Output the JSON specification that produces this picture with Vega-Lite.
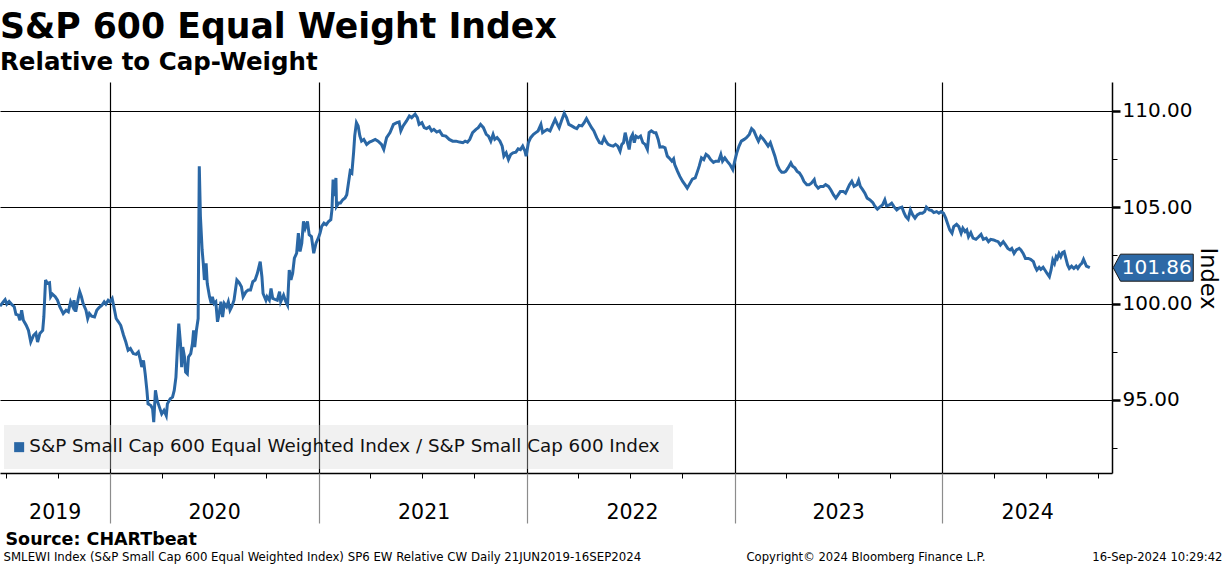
{
  "$schema": "https://vega.github.io/schema/vega-lite/v6.json",
  "width": 1112,
  "height": 391,
  "autosize": {"type": "none"},
  "padding": {"left": 0, "top": 82, "right": 112, "bottom": 93},
  "background": "white",
  "title": {
    "text": "S&P 600 Equal Weight Index",
    "subtitle": "Relative to Cap-Weight",
    "anchor": "start",
    "frame": "group",
    "font": "DejaVu Sans",
    "fontSize": 34.7,
    "fontWeight": "bold",
    "color": "#000000",
    "subtitleFont": "DejaVu Sans",
    "subtitleFontSize": 24.5,
    "subtitleFontWeight": "bold",
    "subtitleColor": "#000000",
    "subtitlePadding": 5,
    "offset": 7
  },
  "config": {
    "view": {"stroke": null},
    "font": "DejaVu Sans",
    "axis": {"labelFont": "DejaVu Sans", "titleFont": "DejaVu Sans"}
  },
  "datasets": {
    "main": [
      {"date": "2019-06-21", "value": 99.86}, {"date": "2019-06-27", "value": 100.09}, {"date": "2019-06-30", "value": 100.2},
      {"date": "2019-07-03", "value": 99.97}, {"date": "2019-07-07", "value": 100.1}, {"date": "2019-07-11", "value": 99.97},
      {"date": "2019-07-16", "value": 99.83}, {"date": "2019-07-19", "value": 99.44}, {"date": "2019-07-23", "value": 99.4},
      {"date": "2019-07-26", "value": 99.13}, {"date": "2019-07-29", "value": 99.65}, {"date": "2019-08-01", "value": 99.13},
      {"date": "2019-08-06", "value": 98.87}, {"date": "2019-08-10", "value": 98.6}, {"date": "2019-08-14", "value": 98.0},
      {"date": "2019-08-19", "value": 98.35}, {"date": "2019-08-23", "value": 98.47}, {"date": "2019-08-26", "value": 98.0},
      {"date": "2019-08-30", "value": 98.44}, {"date": "2019-09-04", "value": 98.6}, {"date": "2019-09-06", "value": 99.3},
      {"date": "2019-09-09", "value": 101.22}, {"date": "2019-09-12", "value": 101.04}, {"date": "2019-09-16", "value": 101.08},
      {"date": "2019-09-18", "value": 100.35}, {"date": "2019-09-21", "value": 100.49}, {"date": "2019-09-26", "value": 100.35},
      {"date": "2019-09-30", "value": 100.17}, {"date": "2019-10-04", "value": 99.83}, {"date": "2019-10-10", "value": 99.48},
      {"date": "2019-10-15", "value": 99.65}, {"date": "2019-10-19", "value": 99.57}, {"date": "2019-10-23", "value": 100.09},
      {"date": "2019-10-27", "value": 99.83}, {"date": "2019-10-29", "value": 100.17}, {"date": "2019-11-01", "value": 99.57},
      {"date": "2019-11-06", "value": 100.35}, {"date": "2019-11-08", "value": 100.61}, {"date": "2019-11-11", "value": 100.35},
      {"date": "2019-11-14", "value": 100.0}, {"date": "2019-11-19", "value": 99.65}, {"date": "2019-11-22", "value": 99.22},
      {"date": "2019-11-25", "value": 99.48}, {"date": "2019-11-29", "value": 99.34}, {"date": "2019-12-04", "value": 99.3},
      {"date": "2019-12-08", "value": 99.65}, {"date": "2019-12-12", "value": 99.79}, {"date": "2019-12-17", "value": 99.91},
      {"date": "2019-12-21", "value": 100.09}, {"date": "2019-12-24", "value": 99.97}, {"date": "2019-12-28", "value": 100.17},
      {"date": "2019-12-31", "value": 100.09}, {"date": "2020-01-04", "value": 100.26}, {"date": "2020-01-07", "value": 99.83},
      {"date": "2020-01-11", "value": 99.22}, {"date": "2020-01-15", "value": 99.05}, {"date": "2020-01-19", "value": 98.87},
      {"date": "2020-01-24", "value": 98.35}, {"date": "2020-01-28", "value": 98.0}, {"date": "2020-02-01", "value": 97.57},
      {"date": "2020-02-05", "value": 97.66}, {"date": "2020-02-10", "value": 97.4}, {"date": "2020-02-15", "value": 97.36},
      {"date": "2020-02-19", "value": 97.48}, {"date": "2020-02-22", "value": 97.14}, {"date": "2020-02-25", "value": 96.7},
      {"date": "2020-02-28", "value": 97.05}, {"date": "2020-03-02", "value": 96.35}, {"date": "2020-03-05", "value": 95.49},
      {"date": "2020-03-07", "value": 94.79}, {"date": "2020-03-12", "value": 94.7}, {"date": "2020-03-15", "value": 94.53},
      {"date": "2020-03-17", "value": 93.84}, {"date": "2020-03-20", "value": 95.49}, {"date": "2020-03-23", "value": 94.97},
      {"date": "2020-03-27", "value": 94.62}, {"date": "2020-03-31", "value": 94.27}, {"date": "2020-04-04", "value": 94.45},
      {"date": "2020-04-08", "value": 94.18}, {"date": "2020-04-10", "value": 94.79}, {"date": "2020-04-15", "value": 95.05},
      {"date": "2020-04-19", "value": 95.14}, {"date": "2020-04-22", "value": 95.49}, {"date": "2020-04-25", "value": 96.18},
      {"date": "2020-04-28", "value": 97.92}, {"date": "2020-04-30", "value": 98.96}, {"date": "2020-05-03", "value": 97.92},
      {"date": "2020-05-05", "value": 96.7}, {"date": "2020-05-07", "value": 97.74}, {"date": "2020-05-10", "value": 97.22},
      {"date": "2020-05-12", "value": 96.44}, {"date": "2020-05-15", "value": 96.35}, {"date": "2020-05-17", "value": 97.22},
      {"date": "2020-05-21", "value": 97.4}, {"date": "2020-05-24", "value": 97.92}, {"date": "2020-05-26", "value": 98.61},
      {"date": "2020-05-28", "value": 97.74}, {"date": "2020-05-31", "value": 98.61}, {"date": "2020-06-03", "value": 99.22},
      {"date": "2020-06-05", "value": 107.12}, {"date": "2020-06-07", "value": 104.51}, {"date": "2020-06-10", "value": 102.78},
      {"date": "2020-06-12", "value": 102.08}, {"date": "2020-06-14", "value": 101.22}, {"date": "2020-06-17", "value": 102.08},
      {"date": "2020-06-19", "value": 101.04}, {"date": "2020-06-23", "value": 100.35}, {"date": "2020-06-26", "value": 100.0},
      {"date": "2020-06-28", "value": 100.35}, {"date": "2020-07-01", "value": 100.0}, {"date": "2020-07-04", "value": 100.09},
      {"date": "2020-07-07", "value": 99.05}, {"date": "2020-07-10", "value": 99.48}, {"date": "2020-07-13", "value": 100.09},
      {"date": "2020-07-16", "value": 99.3}, {"date": "2020-07-19", "value": 100.0}, {"date": "2020-07-23", "value": 99.83},
      {"date": "2020-07-26", "value": 100.09}, {"date": "2020-07-29", "value": 99.65}, {"date": "2020-08-01", "value": 99.83},
      {"date": "2020-08-05", "value": 100.17}, {"date": "2020-08-10", "value": 101.22}, {"date": "2020-08-14", "value": 101.08},
      {"date": "2020-08-18", "value": 100.87}, {"date": "2020-08-21", "value": 100.35}, {"date": "2020-08-26", "value": 100.61},
      {"date": "2020-08-30", "value": 100.7}, {"date": "2020-09-03", "value": 100.7}, {"date": "2020-09-07", "value": 101.13},
      {"date": "2020-09-11", "value": 101.22}, {"date": "2020-09-15", "value": 101.57}, {"date": "2020-09-20", "value": 102.17},
      {"date": "2020-09-23", "value": 101.39}, {"date": "2020-09-25", "value": 100.52}, {"date": "2020-09-30", "value": 100.17},
      {"date": "2020-10-02", "value": 100.35}, {"date": "2020-10-06", "value": 100.17}, {"date": "2020-10-09", "value": 100.78},
      {"date": "2020-10-12", "value": 100.26}, {"date": "2020-10-16", "value": 100.21}, {"date": "2020-10-20", "value": 100.17},
      {"date": "2020-10-24", "value": 100.61}, {"date": "2020-10-26", "value": 100.09}, {"date": "2020-10-31", "value": 100.43},
      {"date": "2020-11-04", "value": 100.09}, {"date": "2020-11-07", "value": 99.91}, {"date": "2020-11-10", "value": 101.74},
      {"date": "2020-11-13", "value": 101.22}, {"date": "2020-11-16", "value": 101.57}, {"date": "2020-11-19", "value": 102.35},
      {"date": "2020-11-23", "value": 102.61}, {"date": "2020-11-26", "value": 103.65}, {"date": "2020-11-29", "value": 102.7},
      {"date": "2020-12-02", "value": 103.13}, {"date": "2020-12-05", "value": 104.26}, {"date": "2020-12-08", "value": 103.91},
      {"date": "2020-12-12", "value": 104.26}, {"date": "2020-12-15", "value": 103.57}, {"date": "2020-12-19", "value": 103.48},
      {"date": "2020-12-23", "value": 102.61}, {"date": "2020-12-27", "value": 103.13}, {"date": "2020-12-31", "value": 103.39},
      {"date": "2021-01-03", "value": 103.65}, {"date": "2021-01-06", "value": 104.0}, {"date": "2021-01-10", "value": 104.17},
      {"date": "2021-01-14", "value": 104.09}, {"date": "2021-01-18", "value": 104.26}, {"date": "2021-01-22", "value": 104.35},
      {"date": "2021-01-24", "value": 104.87}, {"date": "2021-01-26", "value": 106.43}, {"date": "2021-01-29", "value": 105.57},
      {"date": "2021-01-31", "value": 106.52}, {"date": "2021-02-01", "value": 105.04}, {"date": "2021-02-05", "value": 105.22},
      {"date": "2021-02-08", "value": 105.22}, {"date": "2021-02-12", "value": 105.39}, {"date": "2021-02-16", "value": 105.48},
      {"date": "2021-02-19", "value": 105.65}, {"date": "2021-02-22", "value": 106.26}, {"date": "2021-02-25", "value": 106.87},
      {"date": "2021-02-28", "value": 106.78}, {"date": "2021-03-03", "value": 107.83}, {"date": "2021-03-05", "value": 108.7},
      {"date": "2021-03-08", "value": 109.39}, {"date": "2021-03-11", "value": 109.22}, {"date": "2021-03-14", "value": 108.7},
      {"date": "2021-03-17", "value": 108.43}, {"date": "2021-03-21", "value": 108.52}, {"date": "2021-03-26", "value": 108.26},
      {"date": "2021-03-31", "value": 108.38}, {"date": "2021-04-04", "value": 108.43}, {"date": "2021-04-10", "value": 108.52},
      {"date": "2021-04-15", "value": 108.43}, {"date": "2021-04-21", "value": 108.26}, {"date": "2021-04-25", "value": 108.0},
      {"date": "2021-04-30", "value": 108.61}, {"date": "2021-05-06", "value": 108.87}, {"date": "2021-05-12", "value": 109.3},
      {"date": "2021-05-18", "value": 109.39}, {"date": "2021-05-22", "value": 109.43}, {"date": "2021-05-25", "value": 108.96},
      {"date": "2021-05-29", "value": 109.22}, {"date": "2021-06-04", "value": 109.48}, {"date": "2021-06-09", "value": 109.74},
      {"date": "2021-06-13", "value": 109.65}, {"date": "2021-06-19", "value": 109.83}, {"date": "2021-06-23", "value": 109.65},
      {"date": "2021-06-26", "value": 109.3}, {"date": "2021-07-01", "value": 109.39}, {"date": "2021-07-05", "value": 109.13},
      {"date": "2021-07-09", "value": 109.08}, {"date": "2021-07-14", "value": 109.17}, {"date": "2021-07-18", "value": 108.96},
      {"date": "2021-07-22", "value": 109.04}, {"date": "2021-07-27", "value": 108.9}, {"date": "2021-08-01", "value": 108.96},
      {"date": "2021-08-06", "value": 108.73}, {"date": "2021-08-12", "value": 108.69}, {"date": "2021-08-18", "value": 108.52},
      {"date": "2021-08-24", "value": 108.43}, {"date": "2021-08-30", "value": 108.43}, {"date": "2021-09-05", "value": 108.38},
      {"date": "2021-09-11", "value": 108.35}, {"date": "2021-09-15", "value": 108.43}, {"date": "2021-09-19", "value": 108.38},
      {"date": "2021-09-23", "value": 108.52}, {"date": "2021-09-28", "value": 108.87}, {"date": "2021-10-04", "value": 109.04},
      {"date": "2021-10-08", "value": 109.13}, {"date": "2021-10-12", "value": 109.3}, {"date": "2021-10-17", "value": 109.13},
      {"date": "2021-10-22", "value": 108.78}, {"date": "2021-10-26", "value": 108.69}, {"date": "2021-10-30", "value": 108.43},
      {"date": "2021-11-03", "value": 108.78}, {"date": "2021-11-06", "value": 108.52}, {"date": "2021-11-10", "value": 108.61},
      {"date": "2021-11-15", "value": 108.43}, {"date": "2021-11-19", "value": 108.17}, {"date": "2021-11-22", "value": 107.65},
      {"date": "2021-11-26", "value": 107.82}, {"date": "2021-11-30", "value": 107.47}, {"date": "2021-12-04", "value": 107.74},
      {"date": "2021-12-08", "value": 107.82}, {"date": "2021-12-13", "value": 107.86}, {"date": "2021-12-17", "value": 108.03},
      {"date": "2021-12-21", "value": 107.99}, {"date": "2021-12-25", "value": 108.17}, {"date": "2021-12-29", "value": 107.91},
      {"date": "2021-12-31", "value": 107.65}, {"date": "2022-01-04", "value": 108.35}, {"date": "2022-01-08", "value": 108.61},
      {"date": "2022-01-13", "value": 108.78}, {"date": "2022-01-17", "value": 108.87}, {"date": "2022-01-21", "value": 108.96},
      {"date": "2022-01-26", "value": 109.3}, {"date": "2022-01-29", "value": 108.87}, {"date": "2022-02-02", "value": 108.96},
      {"date": "2022-02-06", "value": 109.04}, {"date": "2022-02-11", "value": 108.96}, {"date": "2022-02-16", "value": 109.3},
      {"date": "2022-02-20", "value": 109.56}, {"date": "2022-02-24", "value": 109.3}, {"date": "2022-02-27", "value": 109.13},
      {"date": "2022-03-03", "value": 109.48}, {"date": "2022-03-08", "value": 109.88}, {"date": "2022-03-12", "value": 109.65},
      {"date": "2022-03-16", "value": 109.3}, {"date": "2022-03-21", "value": 109.22}, {"date": "2022-03-26", "value": 109.13},
      {"date": "2022-03-30", "value": 109.08}, {"date": "2022-04-03", "value": 109.25}, {"date": "2022-04-08", "value": 109.22},
      {"date": "2022-04-12", "value": 109.39}, {"date": "2022-04-16", "value": 109.6}, {"date": "2022-04-20", "value": 109.39},
      {"date": "2022-04-25", "value": 109.13}, {"date": "2022-04-29", "value": 108.96}, {"date": "2022-05-04", "value": 108.61},
      {"date": "2022-05-09", "value": 108.35}, {"date": "2022-05-13", "value": 108.31}, {"date": "2022-05-17", "value": 108.61},
      {"date": "2022-05-20", "value": 108.43}, {"date": "2022-05-24", "value": 108.26}, {"date": "2022-05-28", "value": 108.21},
      {"date": "2022-06-02", "value": 108.17}, {"date": "2022-06-06", "value": 108.26}, {"date": "2022-06-10", "value": 108.17},
      {"date": "2022-06-14", "value": 107.91}, {"date": "2022-06-17", "value": 108.26}, {"date": "2022-06-20", "value": 108.35},
      {"date": "2022-06-23", "value": 108.87}, {"date": "2022-06-27", "value": 108.35}, {"date": "2022-06-30", "value": 108.0},
      {"date": "2022-07-03", "value": 108.61}, {"date": "2022-07-06", "value": 108.78}, {"date": "2022-07-09", "value": 108.35},
      {"date": "2022-07-12", "value": 108.69}, {"date": "2022-07-16", "value": 108.61}, {"date": "2022-07-20", "value": 108.69},
      {"date": "2022-07-24", "value": 108.35}, {"date": "2022-07-28", "value": 108.26}, {"date": "2022-08-01", "value": 108.0},
      {"date": "2022-08-04", "value": 108.87}, {"date": "2022-08-08", "value": 108.96}, {"date": "2022-08-13", "value": 108.87},
      {"date": "2022-08-16", "value": 108.87}, {"date": "2022-08-20", "value": 108.52}, {"date": "2022-08-23", "value": 108.12},
      {"date": "2022-08-28", "value": 108.14}, {"date": "2022-09-01", "value": 108.08}, {"date": "2022-09-05", "value": 107.65},
      {"date": "2022-09-08", "value": 107.56}, {"date": "2022-09-13", "value": 107.39}, {"date": "2022-09-16", "value": 107.51},
      {"date": "2022-09-18", "value": 107.21}, {"date": "2022-09-23", "value": 106.86}, {"date": "2022-09-27", "value": 106.6},
      {"date": "2022-10-02", "value": 106.34}, {"date": "2022-10-06", "value": 106.17}, {"date": "2022-10-10", "value": 105.99},
      {"date": "2022-10-15", "value": 106.25}, {"date": "2022-10-19", "value": 106.46}, {"date": "2022-10-24", "value": 106.52},
      {"date": "2022-10-28", "value": 106.86}, {"date": "2022-10-31", "value": 107.13}, {"date": "2022-11-04", "value": 107.56},
      {"date": "2022-11-08", "value": 107.47}, {"date": "2022-11-12", "value": 107.74}, {"date": "2022-11-16", "value": 107.65},
      {"date": "2022-11-20", "value": 107.47}, {"date": "2022-11-25", "value": 107.33}, {"date": "2022-11-29", "value": 107.39},
      {"date": "2022-12-04", "value": 107.39}, {"date": "2022-12-08", "value": 107.74}, {"date": "2022-12-11", "value": 107.39},
      {"date": "2022-12-15", "value": 107.56}, {"date": "2022-12-19", "value": 107.39}, {"date": "2022-12-24", "value": 107.21},
      {"date": "2022-12-29", "value": 106.95}, {"date": "2023-01-02", "value": 107.47}, {"date": "2023-01-05", "value": 107.82},
      {"date": "2023-01-09", "value": 108.17}, {"date": "2023-01-13", "value": 108.43}, {"date": "2023-01-18", "value": 108.52},
      {"date": "2023-01-22", "value": 108.61}, {"date": "2023-01-27", "value": 108.78}, {"date": "2023-01-31", "value": 109.08},
      {"date": "2023-02-04", "value": 108.96}, {"date": "2023-02-09", "value": 108.61}, {"date": "2023-02-12", "value": 108.43},
      {"date": "2023-02-16", "value": 108.69}, {"date": "2023-02-21", "value": 108.52}, {"date": "2023-02-25", "value": 108.35},
      {"date": "2023-03-01", "value": 108.17}, {"date": "2023-03-05", "value": 108.35}, {"date": "2023-03-09", "value": 108.0},
      {"date": "2023-03-13", "value": 107.65}, {"date": "2023-03-17", "value": 107.21}, {"date": "2023-03-21", "value": 106.95},
      {"date": "2023-03-25", "value": 106.81}, {"date": "2023-03-29", "value": 106.81}, {"date": "2023-04-01", "value": 106.86},
      {"date": "2023-04-05", "value": 107.04}, {"date": "2023-04-10", "value": 107.3}, {"date": "2023-04-13", "value": 107.13},
      {"date": "2023-04-17", "value": 107.04}, {"date": "2023-04-21", "value": 106.86}, {"date": "2023-04-25", "value": 106.78},
      {"date": "2023-04-29", "value": 106.6}, {"date": "2023-05-03", "value": 106.34}, {"date": "2023-05-08", "value": 106.17},
      {"date": "2023-05-12", "value": 106.17}, {"date": "2023-05-16", "value": 106.25}, {"date": "2023-05-21", "value": 106.43},
      {"date": "2023-05-23", "value": 106.17}, {"date": "2023-05-28", "value": 105.99}, {"date": "2023-06-01", "value": 106.08},
      {"date": "2023-06-06", "value": 106.08}, {"date": "2023-06-10", "value": 106.17}, {"date": "2023-06-15", "value": 106.08},
      {"date": "2023-06-19", "value": 105.91}, {"date": "2023-06-24", "value": 105.64}, {"date": "2023-06-28", "value": 105.47},
      {"date": "2023-07-02", "value": 105.64}, {"date": "2023-07-06", "value": 105.82}, {"date": "2023-07-11", "value": 105.82},
      {"date": "2023-07-15", "value": 105.73}, {"date": "2023-07-18", "value": 105.91}, {"date": "2023-07-22", "value": 106.17},
      {"date": "2023-07-26", "value": 106.34}, {"date": "2023-07-30", "value": 106.08}, {"date": "2023-08-04", "value": 106.17},
      {"date": "2023-08-07", "value": 106.39}, {"date": "2023-08-10", "value": 106.08}, {"date": "2023-08-14", "value": 105.91},
      {"date": "2023-08-18", "value": 105.73}, {"date": "2023-08-22", "value": 105.47}, {"date": "2023-08-27", "value": 105.38},
      {"date": "2023-09-01", "value": 105.24}, {"date": "2023-09-05", "value": 105.03}, {"date": "2023-09-09", "value": 104.9},
      {"date": "2023-09-13", "value": 105.0}, {"date": "2023-09-18", "value": 105.12}, {"date": "2023-09-22", "value": 105.38},
      {"date": "2023-09-25", "value": 105.07}, {"date": "2023-09-30", "value": 105.12}, {"date": "2023-10-04", "value": 105.21},
      {"date": "2023-10-08", "value": 105.03}, {"date": "2023-10-13", "value": 104.86}, {"date": "2023-10-17", "value": 104.95},
      {"date": "2023-10-22", "value": 105.0}, {"date": "2023-10-26", "value": 104.69}, {"date": "2023-10-29", "value": 104.51},
      {"date": "2023-11-02", "value": 104.38}, {"date": "2023-11-06", "value": 104.86}, {"date": "2023-11-10", "value": 104.6},
      {"date": "2023-11-14", "value": 104.43}, {"date": "2023-11-18", "value": 104.6}, {"date": "2023-11-23", "value": 104.69},
      {"date": "2023-11-27", "value": 104.69}, {"date": "2023-12-01", "value": 104.77}, {"date": "2023-12-04", "value": 105.0},
      {"date": "2023-12-09", "value": 104.86}, {"date": "2023-12-13", "value": 104.83}, {"date": "2023-12-17", "value": 104.72},
      {"date": "2023-12-22", "value": 104.77}, {"date": "2023-12-26", "value": 104.69}, {"date": "2023-12-30", "value": 104.77},
      {"date": "2024-01-03", "value": 104.69}, {"date": "2024-01-07", "value": 104.43}, {"date": "2024-01-10", "value": 104.17},
      {"date": "2024-01-14", "value": 103.82}, {"date": "2024-01-18", "value": 103.65}, {"date": "2024-01-21", "value": 103.99},
      {"date": "2024-01-26", "value": 104.11}, {"date": "2024-01-30", "value": 103.99}, {"date": "2024-02-03", "value": 103.65},
      {"date": "2024-02-06", "value": 103.91}, {"date": "2024-02-10", "value": 103.73}, {"date": "2024-02-13", "value": 103.82},
      {"date": "2024-02-16", "value": 103.47}, {"date": "2024-02-20", "value": 103.68}, {"date": "2024-02-24", "value": 103.39},
      {"date": "2024-02-29", "value": 103.33}, {"date": "2024-03-04", "value": 103.44}, {"date": "2024-03-09", "value": 103.59},
      {"date": "2024-03-13", "value": 103.33}, {"date": "2024-03-18", "value": 103.39}, {"date": "2024-03-22", "value": 103.21},
      {"date": "2024-03-26", "value": 103.33}, {"date": "2024-03-31", "value": 103.3}, {"date": "2024-04-04", "value": 103.25},
      {"date": "2024-04-08", "value": 103.21}, {"date": "2024-04-12", "value": 103.04}, {"date": "2024-04-17", "value": 103.21},
      {"date": "2024-04-21", "value": 103.04}, {"date": "2024-04-25", "value": 102.86}, {"date": "2024-04-29", "value": 102.78},
      {"date": "2024-05-02", "value": 102.86}, {"date": "2024-05-06", "value": 102.6}, {"date": "2024-05-10", "value": 102.78},
      {"date": "2024-05-15", "value": 102.86}, {"date": "2024-05-18", "value": 102.78}, {"date": "2024-05-22", "value": 102.6},
      {"date": "2024-05-26", "value": 102.34}, {"date": "2024-05-31", "value": 102.34}, {"date": "2024-06-04", "value": 102.29},
      {"date": "2024-06-09", "value": 102.17}, {"date": "2024-06-12", "value": 101.91}, {"date": "2024-06-15", "value": 101.74},
      {"date": "2024-06-19", "value": 101.88}, {"date": "2024-06-22", "value": 101.77}, {"date": "2024-06-26", "value": 101.88},
      {"date": "2024-06-30", "value": 101.7}, {"date": "2024-07-03", "value": 101.56}, {"date": "2024-07-07", "value": 101.39},
      {"date": "2024-07-10", "value": 101.74}, {"date": "2024-07-13", "value": 102.26}, {"date": "2024-07-16", "value": 102.08},
      {"date": "2024-07-19", "value": 102.43}, {"date": "2024-07-21", "value": 102.34}, {"date": "2024-07-24", "value": 102.6},
      {"date": "2024-07-27", "value": 102.43}, {"date": "2024-07-30", "value": 102.64}, {"date": "2024-08-02", "value": 102.69},
      {"date": "2024-08-05", "value": 102.34}, {"date": "2024-08-08", "value": 102.0}, {"date": "2024-08-11", "value": 101.82},
      {"date": "2024-08-15", "value": 101.94}, {"date": "2024-08-19", "value": 101.82}, {"date": "2024-08-23", "value": 101.94},
      {"date": "2024-08-26", "value": 101.82}, {"date": "2024-08-30", "value": 102.0}, {"date": "2024-09-02", "value": 102.08},
      {"date": "2024-09-05", "value": 102.29}, {"date": "2024-09-08", "value": 102.08}, {"date": "2024-09-10", "value": 101.94},
      {"date": "2024-09-16", "value": 101.86}
    ],
    "last": [
      {"date": "2024-09-16", "value": 101.86, "label": "101.86"}
    ]
  },
  "layer": [
    {
      "data": {"name": "main"},
      "mark": {"type": "line", "strokeWidth": 3, "interpolate": "linear"},
      "encoding": {
        "x": {
          "field": "date", "type": "temporal",
          "scale": {"domain": [{"year": 2019, "month": 6, "date": 21}, {"year": 2024, "month": 10, "date": 25}]},
          "axis": {
            "orient": "bottom",
            "values": [
              {"year": 2019, "month": 7, "date": 1}, {"year": 2019, "month": 10, "date": 1},
              {"year": 2020, "month": 4, "date": 1}, {"year": 2020, "month": 7, "date": 1}, {"year": 2020, "month": 10, "date": 1},
              {"year": 2021, "month": 4, "date": 1}, {"year": 2021, "month": 7, "date": 1}, {"year": 2021, "month": 10, "date": 1},
              {"year": 2022, "month": 4, "date": 1}, {"year": 2022, "month": 7, "date": 1}, {"year": 2022, "month": 10, "date": 1},
              {"year": 2023, "month": 4, "date": 1}, {"year": 2023, "month": 7, "date": 1}, {"year": 2023, "month": 10, "date": 1},
              {"year": 2024, "month": 4, "date": 1}, {"year": 2024, "month": 7, "date": 1}, {"year": 2024, "month": 10, "date": 1}
            ],
            "labels": false, "grid": false,
            "ticks": true, "tickSize": 5, "tickColor": "#000000", "tickWidth": 1,
            "domain": true, "domainColor": "#000000", "domainWidth": 1.5,
            "title": "Source: CHARTbeat",
            "titleX": 5, "titleY": 71, "titleAlign": "left", "titleBaseline": "alphabetic",
            "titleFontSize": 17.5, "titleFontWeight": "bold", "titleColor": "#000000"
          }
        },
        "y": {
          "field": "value", "type": "quantitative",
          "scale": {"domain": [91.2, 111.5], "nice": false, "zero": false},
          "axis": {
            "orient": "right",
            "values": [95, 100, 105, 110],
            "format": ".2f",
            "labelFontSize": 20, "labelColor": "#000000", "labelPadding": 2,
            "grid": true, "gridColor": "#000000", "gridWidth": 1.2,
            "ticks": true, "tickSize": 8, "tickWidth": 2.5, "tickColor": "#000000",
            "domain": true, "domainColor": "#000000", "domainWidth": 1.5,
            "title": "Index",
            "titleFontSize": 22.5, "titleFontWeight": "normal", "titleColor": "#000000",
            "titleAngle": 90, "titleX": 88, "titleY": 196, "titleAlign": "center", "titleBaseline": "alphabetic"
          }
        },
        "color": {
          "datum": "S&P Small Cap 600 Equal Weighted Index / S&P Small Cap 600 Index",
          "type": "nominal",
          "scale": {"range": ["#2a67a5"]},
          "legend": {
            "title": null,
            "orient": "bottom-left",
            "offset": 4,
            "fillColor": "rgba(215,215,215,0.35)",
            "padding": 13,
            "cornerRadius": 0,
            "symbolType": "square",
            "symbolSize": 100,
            "symbolOffset": -7,
            "symbolFillColor": "#2a67a5",
            "symbolStrokeColor": "#2a67a5",
            "symbolStrokeWidth": 0,
            "labelFontSize": 18.3,
            "labelFont": "DejaVu Sans",
            "labelColor": "#111111",
            "labelOffset": 1,
            "labelLimit": 900
          }
        }
      }
    },
    {
      "data": {"name": "last"},
      "mark": {
        "type": "point",
        "shape": "M0.45,0L0.59,-0.26L1.99,-0.26L1.99,0.26L0.59,0.26Z",
        "size": 10816,
        "filled": true,
        "fill": "#2d69a6",
        "stroke": "#1a1a1a",
        "strokeWidth": 1,
        "opacity": 1
      },
      "encoding": {
        "x": {
          "field": "date", "type": "temporal",
          "axis": {
            "orient": "bottom",
            "values": [
              {"year": 2020, "month": 1, "date": 1}, {"year": 2021, "month": 1, "date": 1},
              {"year": 2022, "month": 1, "date": 1}, {"year": 2023, "month": 1, "date": 1},
              {"year": 2024, "month": 1, "date": 1}
            ],
            "labels": false,
            "grid": true, "gridColor": "#000000", "gridWidth": 1.2,
            "ticks": true, "tickSize": 50, "tickColor": "#8c8c8c", "tickWidth": 1.2,
            "domain": false,
            "title": "Copyright© 2024 Bloomberg Finance L.P.",
            "titleX": 746, "titleY": 87, "titleAlign": "left", "titleBaseline": "alphabetic",
            "titleFontSize": 11.6, "titleFontWeight": "normal", "titleColor": "#000000"
          }
        },
        "y": {
          "field": "value", "type": "quantitative",
          "axis": {
            "orient": "right",
            "values": [92.5, 97.5, 102.5, 107.5],
            "labels": false, "grid": false,
            "ticks": true, "tickSize": 5, "tickWidth": 1, "tickColor": "#000000",
            "domain": false,
            "title": "16-Sep-2024 10:29:42",
            "titleAngle": 0, "titleX": 110, "titleY": 478, "titleAlign": "right", "titleBaseline": "alphabetic",
            "titleFontSize": 11.6, "titleFontWeight": "normal", "titleColor": "#000000"
          }
        }
      }
    },
    {
      "data": {"name": "last"},
      "mark": {"type": "text", "dx": 67, "align": "center", "baseline": "middle", "fontSize": 20, "color": "#ffffff", "font": "DejaVu Sans"},
      "encoding": {
        "x": {
          "field": "date", "type": "temporal",
          "axis": {
            "orient": "bottom",
            "values": [
              {"year": 2019, "month": 9, "date": 25}, {"year": 2020, "month": 7, "date": 1},
              {"year": 2021, "month": 7, "date": 4}, {"year": 2022, "month": 7, "date": 5},
              {"year": 2023, "month": 7, "date": 2}, {"year": 2024, "month": 5, "date": 29}
            ],
            "labelExpr": "timeFormat(datum.value, '%Y')",
            "labelFontSize": 20.5, "labelColor": "#000000", "labelPadding": 29,
            "labelFlush": false, "labelOverlap": false, "labelBound": false,
            "ticks": false, "grid": false, "domain": false,
            "title": "SMLEWI Index (S&P Small Cap 600 Equal Weighted Index) SP6 EW Relative CW  Daily 21JUN2019-16SEP2024",
            "titleX": 3, "titleY": 87, "titleAlign": "left", "titleBaseline": "alphabetic",
            "titleFontSize": 11.75, "titleFontWeight": "normal", "titleColor": "#000000"
          }
        },
        "y": {"field": "value", "type": "quantitative", "axis": null},
        "text": {"field": "label"}
      }
    }
  ],
  "resolve": {"axis": {"x": "independent", "y": "independent"}}
}
